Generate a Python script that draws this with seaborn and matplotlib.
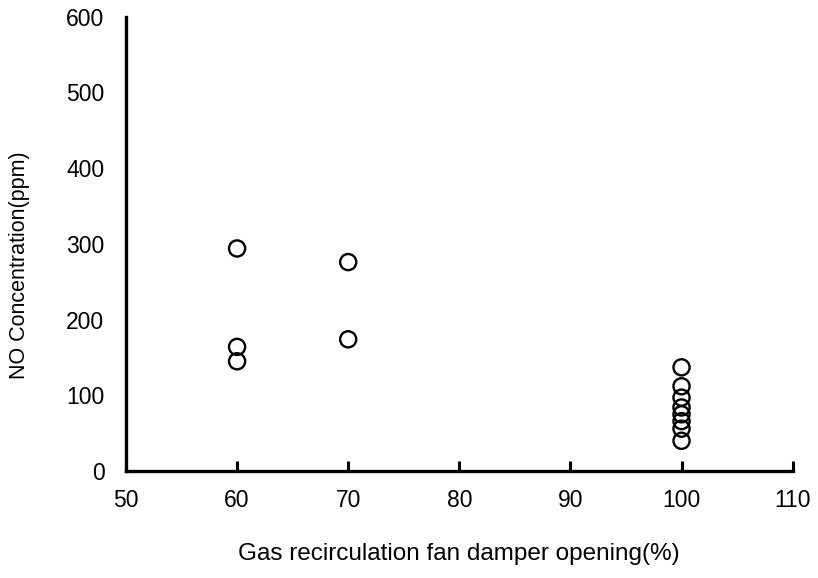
import matplotlib
matplotlib.use("Agg")
import matplotlib.pyplot as plt
import pandas as pd
import seaborn as sns

damper_60 = [60, 60, 60]
no_60 = [294, 164, 145]
damper_70 = [70, 70]
no_70 = [276, 174]
damper_100 = [100, 100, 100, 100, 100, 100, 100, 100]
no_100 = [137, 112, 97, 84, 75, 66, 56, 40]

x_ticks = [50, 60, 70, 80, 90, 100, 110]
y_ticks = [0, 100, 200, 300, 400, 500, 600]

df = pd.DataFrame({
    "damper": damper_60 + damper_70 + damper_100,
    "no": no_60 + no_70 + no_100,
})

sns.set_style("white")
plt.rcParams['font.family'] = ['Liberation Sans', 'DejaVu Sans']
plt.rcParams['text.color'] = 'black'
plt.rcParams['axes.labelcolor'] = 'black'

fig = plt.figure(figsize=(8.18, 5.78), dpi=100)
ax = fig.add_axes([0.154, 0.185, 0.815, 0.786])

sns.scatterplot(data=df, x="damper", y="no", ax=ax, s=135, marker="o",
                facecolors="none", edgecolor="black", linewidth=1.7)

ax.set_xlim(50, 110)
ax.set_ylim(0, 600)
ax.set_xticks(x_ticks)
ax.set_yticks(y_ticks)
ax.tick_params(axis="x", bottom=True, direction="in", length=7, width=2.2,
               color="black", labelcolor="black", labelsize=16.5, pad=13)
ax.tick_params(axis="y", left=False, labelcolor="black", labelsize=16.5, pad=12)

for side in ["top", "right"]:
    ax.spines[side].set_visible(False)
for side in ["left", "bottom"]:
    ax.spines[side].set_linewidth(2.4)
    ax.spines[side].set_color("black")

ax.set_xlabel("Gas recirculation fan damper opening(%)", fontsize=17.5, labelpad=22)
ax.set_ylabel("NO Concentration(ppm)", fontsize=15.5)
ax.yaxis.set_label_coords(-0.144, 0.454)

fig.savefig("out.png", dpi=100)
